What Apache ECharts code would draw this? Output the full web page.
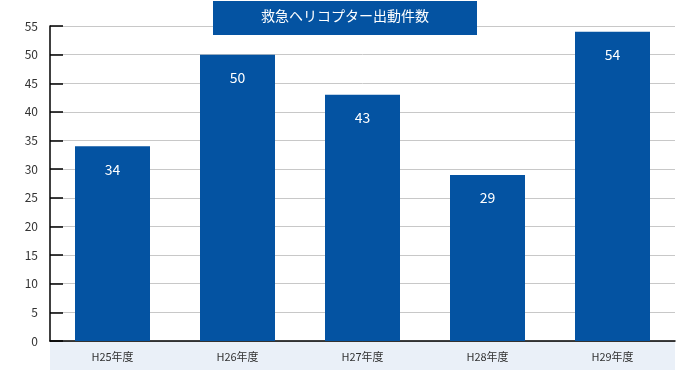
<!DOCTYPE html>
<html>
<head>
<meta charset="utf-8">
<script src="https://cdn.jsdelivr.net/npm/echarts@6/dist/echarts.min.js"></script>
<style>
  html, body { margin: 0; padding: 0; background: #fff; }
  #chart { width: 690px; height: 378px; }
</style>
</head>
<body>
<div id="chart"></div>
<script>
// データ
var titleText = '救急ヘリコプター出動件数';
var categories = ['H25年度', 'H26年度', 'H27年度', 'H28年度', 'H29年度'];
var counts = [34, 50, 43, 29, 54];

var FONT = '"Noto Sans CJK JP", "Noto Sans", sans-serif';
var BLUE = '#0453a2';

var chart = echarts.init(document.getElementById('chart'));
var option = {
    animation: false,
    textStyle: { fontFamily: FONT },
    grid: { left: 50, right: 15, top: 26, bottom: 37 },
    graphic: [
        // ラベル帯
        { type: 'rect', left: 50, top: 342, z: -1, shape: { width: 625, height: 28 }, style: { fill: '#eaf0f8' } },
        // タイトルボックス
        { type: 'rect', left: 213, top: 1, z: 10, shape: { width: 264, height: 34 }, style: { fill: BLUE } },
        { type: 'text', left: 'center', top: 9, z: 11, style: { text: titleText, fill: '#fff', font: '14px ' + FONT } }
    ],
    xAxis: {
        type: 'category',
        data: categories,
        axisLine: { lineStyle: { color: '#000', width: 1.5 } },
        axisTick: { inside: true, length: 4, lineStyle: { color: '#777' } },
        axisLabel: { color: '#333', fontSize: 11, margin: 10, fontFamily: FONT }
    },
    yAxis: {
        type: 'value',
        min: 0,
        max: 55,
        interval: 5,
        axisLine: { show: true, lineStyle: { color: '#000', width: 1.5 } },
        axisTick: { show: true, inside: true, length: 13, lineStyle: { color: '#000', width: 1.5 } },
        axisLabel: { color: '#333', fontSize: 12, margin: 12, fontFamily: FONT },
        splitLine: { lineStyle: { color: '#c8c8c8' } }
    },
    series: [{
        type: 'bar',
        data: counts,
        barWidth: 75,
        itemStyle: { color: BLUE },
        label: {
            show: true,
            position: 'insideTop',
            distance: 16,
            color: '#fff',
            fontSize: 14,
            fontFamily: FONT
        }
    }]
};
chart.setOption(option);
</script>
</body>
</html>
